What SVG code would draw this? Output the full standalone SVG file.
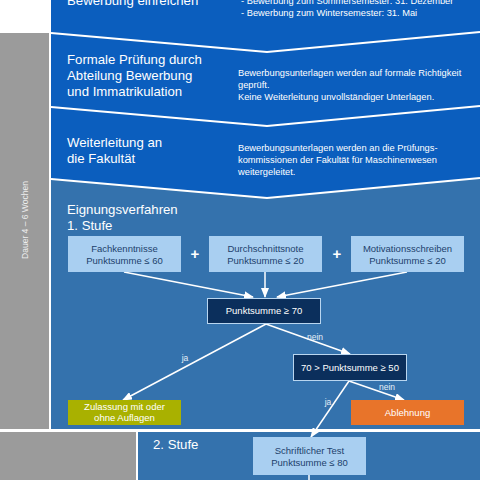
<svg xmlns="http://www.w3.org/2000/svg" width="480" height="480" viewBox="0 0 480 480">
<defs>
<style>
text{font-family:"Liberation Sans",Arial,sans-serif}
.h{fill:#fff;font-size:13.2px}
.d{fill:#fff;font-size:9.3px}
.bx{fill:#a9cff1}
.bt{fill:#1d3f6c;font-size:9.5px;text-anchor:middle}
.dk{fill:#0b2f5c;stroke:#b9d6f0;stroke-width:1}
.wt{fill:#fff;font-size:9.5px;text-anchor:middle}
.lb{fill:#e6eef7;font-size:8.5px;text-anchor:middle}
.cn{stroke:#fff;stroke-width:1.5;fill:none;marker-end:url(#ah)}
.sep{stroke:#fff;stroke-width:2;fill:none}
</style>
<marker id="ah" markerUnits="userSpaceOnUse" markerWidth="10" markerHeight="8" refX="9" refY="4" orient="auto"><path d="M0,0 L10,4 L0,8 Z" fill="#fff"/></marker>
</defs>
<rect width="480" height="480" fill="#fff"/>
<!-- grey side bars -->
<rect x="0" y="33" width="49" height="396" fill="#9b9b9b"/>
<rect x="0" y="432" width="136" height="48" fill="#9b9b9b"/>
<text transform="translate(28,220) rotate(-90)" fill="#eeeeee" font-size="8.5" text-anchor="middle">Dauer 4 – 6 Wochen</text>
<!-- bands -->
<rect x="51" y="0" width="429" height="200" fill="#0b5ebe"/>
<polygon points="51,179 267,198 480,178 480,429 51,429" fill="#3472ad"/>
<rect x="138" y="432" width="342" height="48" fill="#3472ad"/>
<polyline class="sep" points="51,33 267,52 480,32"/>
<polyline class="sep" points="51,107 267,126 480,106"/>
<polyline class="sep" points="51,179 267,198 480,178"/>
<line x1="0" y1="430.5" x2="480" y2="430.5" stroke="#fff" stroke-width="2.5"/>
<line x1="137" y1="431" x2="137" y2="480" stroke="#fff" stroke-width="2"/>
<line x1="50" y1="33" x2="50" y2="430" stroke="#fff" stroke-width="2"/>
<!-- step texts -->
<g id="step1">
<text class="h" x="67" y="5">Bewerbung einreichen</text>
<text class="d" x="241" y="4">- Bewerbung zum Sommersemester: 31. Dezember</text>
<text class="d" x="241" y="16">- Bewerbung zum Wintersemester: 31. Mai</text>
</g>
<g id="step2">
<text class="h" x="67" y="64">Formale Prüfung durch</text>
<text class="h" x="67" y="80">Abteilung Bewerbung</text>
<text class="h" x="67" y="96">und Immatrikulation</text>
<text class="d" x="238" y="76">Bewerbungsunterlagen werden auf formale Richtigkeit</text>
<text class="d" x="238" y="88">geprüft.</text>
<text class="d" x="238" y="100">Keine Weiterleitung unvollständiger Unterlagen.</text>
</g>
<g id="step3">
<text class="h" x="67" y="147">Weiterleitung an</text>
<text class="h" x="67" y="163">die Fakultät</text>
<text class="d" x="238" y="151">Bewerbungsunterlagen werden an die Prüfungs-</text>
<text class="d" x="238" y="163">kommissionen der Fakultät für Maschinenwesen</text>
<text class="d" x="238" y="175">weitergeleitet.</text>
</g>
<g id="step4">
<text class="h" x="67" y="214">Eignungsverfahren</text>
<text class="h" x="67" y="230">1. Stufe</text>
</g>
<!-- connectors -->
<g id="connectors">
<line class="cn" x1="124" y1="272" x2="253" y2="297"/>
<line class="cn" x1="265" y1="272" x2="265" y2="297"/>
<line class="cn" x1="407" y1="272" x2="277" y2="297"/>
<line class="cn" x1="266" y1="324" x2="123" y2="400"/>
<line class="cn" x1="266" y1="324" x2="350" y2="354"/>
<line class="cn" x1="349" y1="381" x2="404" y2="400"/>
<line class="cn" x1="349" y1="381" x2="311" y2="437"/>
<line x1="309" y1="475" x2="309" y2="480" stroke="#fff" stroke-width="1.5"/>
<text class="lb" x="315" y="340">nein</text>
<text class="lb" x="185" y="361">ja</text>
<text class="lb" x="387" y="390">nein</text>
<text class="lb" x="328" y="405">ja</text>
</g>
<text x="195" y="259" fill="#fff" font-size="15" font-weight="bold" text-anchor="middle">+</text>
<text x="337" y="259" fill="#fff" font-size="15" font-weight="bold" text-anchor="middle">+</text>
<g id="fach">
<rect class="bx" x="68" y="236" width="113" height="36"/>
<text class="bt" x="124.5" y="252">Fachkenntnisse</text>
<text class="bt" x="124.5" y="264">Punktsumme ≤ 60</text>
</g>
<g id="durch">
<rect class="bx" x="209" y="236" width="113" height="36"/>
<text class="bt" x="265.5" y="252">Durchschnittsnote</text>
<text class="bt" x="265.5" y="264">Punktsumme ≤ 20</text>
</g>
<g id="motiv">
<rect class="bx" x="351" y="236" width="113" height="36"/>
<text class="bt" x="407.5" y="252">Motivationsschreiben</text>
<text class="bt" x="407.5" y="264">Punktsumme ≤ 20</text>
</g>
<g id="p70">
<rect class="dk" x="207.5" y="298.5" width="113" height="25"/>
<text class="wt" x="264" y="314">Punktsumme ≥ 70</text>
</g>
<g id="p50">
<rect class="dk" x="293.5" y="354.5" width="113" height="26"/>
<text class="wt" x="350" y="371">70 &gt; Punktsumme ≥ 50</text>
</g>
<g id="zul">
<rect x="68" y="400" width="113" height="25" fill="#a9b100"/>
<text class="wt" x="124.5" y="410">Zulassung mit oder</text>
<text class="wt" x="124.5" y="421">ohne Auflagen</text>
</g>
<g id="abl">
<rect x="351" y="400" width="113" height="25" fill="#e8742a"/>
<text class="wt" x="407.5" y="416">Ablehnung</text>
</g>
<g id="stufe2">
<text class="h" x="153" y="449" font-size="13.5">2. Stufe</text>
</g>
<g id="test">
<rect class="bx" x="253" y="437" width="113" height="38"/>
<text class="bt" x="309.5" y="454">Schriftlicher Test</text>
<text class="bt" x="309.5" y="466">Punktsumme ≤ 80</text>
</g>
</svg>
